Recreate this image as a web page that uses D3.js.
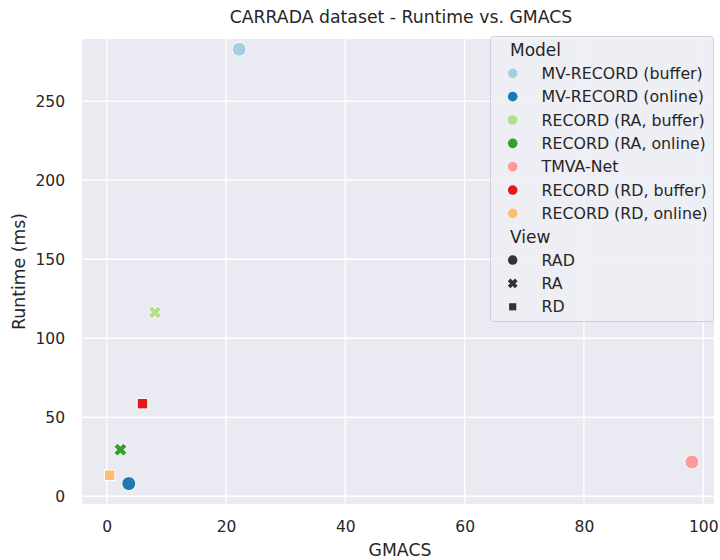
<!DOCTYPE html>
<html>
<head>
<meta charset="utf-8">
<script src="https://cdn.jsdelivr.net/npm/d3@7"></script>
<style>
  html, body { margin: 0; padding: 0; background: #ffffff; }
  svg { display: block; font-family: "DejaVu Sans", sans-serif; }
</style>
</head>
<body>
<svg id="chart" width="720" height="560"></svg>
<script>
// Runtime vs. GMACS for each model on CARRADA
const models = [
  "MV-RECORD (buffer)",
  "MV-RECORD (online)",
  "RECORD (RA, buffer)",
  "RECORD (RA, online)",
  "TMVA-Net",
  "RECORD (RD, buffer)",
  "RECORD (RD, online)"
];
const views = ["RAD", "RA", "RD"];
const modelView = ["RAD", "RAD", "RA", "RA", "RAD", "RD", "RD"];
const gmacs = [22.2, 3.7, 8.1, 2.3, 98.1, 6.0, 0.5];
const runtimeMs = [282.9, 8.0, 116.4, 29.5, 21.7, 58.6, 13.3];
const colors = ["#a6cee3", "#1f78b4", "#b2df8a", "#33a02c", "#fb9a99", "#e31a1c", "#fdbf6f"];
const xTicks = [0, 20, 40, 60, 80, 100];
const yTicks = [0, 50, 100, 150, 200, 250];

const svg = d3.select("#chart");
const ink = "#262626";
const plot = { left: 82, right: 714, top: 39, bottom: 504 };

const x = d3.scaleLinear().domain([-4.14, 101.8]).range([plot.left, plot.right]);
const y = d3.scaleLinear().domain([-4.9, 289.4]).range([plot.bottom, plot.top]);

// background
svg.append("rect")
  .attr("x", plot.left).attr("y", plot.top)
  .attr("width", plot.right - plot.left).attr("height", plot.bottom - plot.top)
  .attr("fill", "#eaeaf2");

// grid
const grid = svg.append("g").attr("stroke", "#ffffff").attr("stroke-width", 1.3);
grid.selectAll("line.gx").data(xTicks).join("line")
  .attr("x1", d => x(d)).attr("x2", d => x(d))
  .attr("y1", plot.top).attr("y2", plot.bottom);
grid.selectAll("line.gy").data(yTicks).join("line")
  .attr("x1", plot.left).attr("x2", plot.right)
  .attr("y1", d => y(d)).attr("y2", d => y(d));

// axes (labels only, seaborn darkgrid style)
const xAxis = svg.append("g")
  .attr("transform", `translate(0,${plot.bottom})`)
  .call(d3.axisBottom(x).tickValues(xTicks).tickSize(0).tickPadding(17).tickFormat(d3.format("d")));
const yAxis = svg.append("g")
  .attr("transform", `translate(${plot.left},0)`)
  .call(d3.axisLeft(y).tickValues(yTicks).tickSize(0).tickPadding(17).tickFormat(d3.format("d")));
[xAxis, yAxis].forEach(a => {
  a.select(".domain").remove();
  a.selectAll("text").attr("fill", ink).attr("font-size", 15.5).attr("font-family", "DejaVu Sans");
});

// axis titles
svg.append("text")
  .attr("x", (plot.left + plot.right) / 2 + 2).attr("y", 556)
  .attr("text-anchor", "middle").attr("fill", ink).attr("font-size", 17.3)
  .text("GMACS");
svg.append("text")
  .attr("transform", `translate(25,${(plot.top + plot.bottom) / 2}) rotate(-90)`)
  .attr("text-anchor", "middle").attr("fill", ink).attr("font-size", 17.3)
  .text("Runtime (ms)");
svg.append("text")
  .attr("x", 401).attr("y", 23)
  .attr("text-anchor", "middle").attr("fill", ink).attr("font-size", 17.3)
  .text("CARRADA dataset - Runtime vs. GMACS");

// marker shapes
function xPath(s) {
  // filled "X" marker
  const a = s / 2, t = s * 0.27;
  const pts = [
    [-a, -a + t], [-a + t, -a], [0, -t], [a - t, -a], [a, -a + t], [t, 0],
    [a, a - t], [a - t, a], [0, t], [-a + t, a], [-a, a - t], [-t, 0]
  ];
  return "M" + pts.map(p => p.join(",")).join("L") + "Z";
}
function drawMarker(g, view, cx, cy, color, scale) {
  const k = scale || 1;
  if (view === "RAD") {
    g.append("circle").attr("cx", cx).attr("cy", cy).attr("r", 7 * k).attr("fill", color);
  } else if (view === "RA") {
    g.append("path").attr("d", xPath(13 * k)).attr("transform", `translate(${cx},${cy})`).attr("fill", color);
  } else {
    const s = 10.5 * k;
    g.append("rect").attr("x", cx - s / 2).attr("y", cy - s / 2).attr("width", s).attr("height", s).attr("fill", color);
  }
}

// points
const pts = svg.append("g").attr("stroke", "#ffffff").attr("stroke-width", 1);
models.forEach((m, i) => {
  drawMarker(pts, modelView[i], x(gmacs[i]), y(runtimeMs[i]), colors[i]);
});

// legend
const lg = svg.append("g");
lg.append("rect")
  .attr("x", 490.5).attr("y", 36.5).attr("width", 223).attr("height", 285)
  .attr("rx", 3).attr("fill", "#eeeef5").attr("fill-opacity", 0.9)
  .attr("stroke", "#d0d0d8").attr("stroke-width", 1);
const rowH = 23.35;
const firstRow = 73.3;
lg.append("text").attr("x", 510).attr("y", firstRow - rowH).attr("dy", "0.35em")
  .attr("fill", ink).attr("font-size", 17).text("Model");
models.forEach((m, i) => {
  const cy = firstRow + i * rowH;
  lg.append("circle").attr("cx", 512.7).attr("cy", cy).attr("r", 4.8).attr("fill", colors[i]);
  lg.append("text").attr("x", 541.5).attr("y", cy).attr("dy", "0.35em")
    .attr("fill", ink).attr("font-size", 15.8).text(m);
});
const viewTitleY = firstRow + models.length * rowH;
lg.append("text").attr("x", 510).attr("y", viewTitleY).attr("dy", "0.35em")
  .attr("fill", ink).attr("font-size", 17).text("View");
views.forEach((v, i) => {
  const cy = viewTitleY + (i + 1) * rowH;
  const g = lg.append("g");
  drawMarker(g, v, 512.7, cy, "#333333", v === "RA" ? 0.75 : 0.68);
  lg.append("text").attr("x", 541.5).attr("y", cy).attr("dy", "0.35em")
    .attr("fill", ink).attr("font-size", 15.8).text(v);
});
</script>
</body>
</html>
